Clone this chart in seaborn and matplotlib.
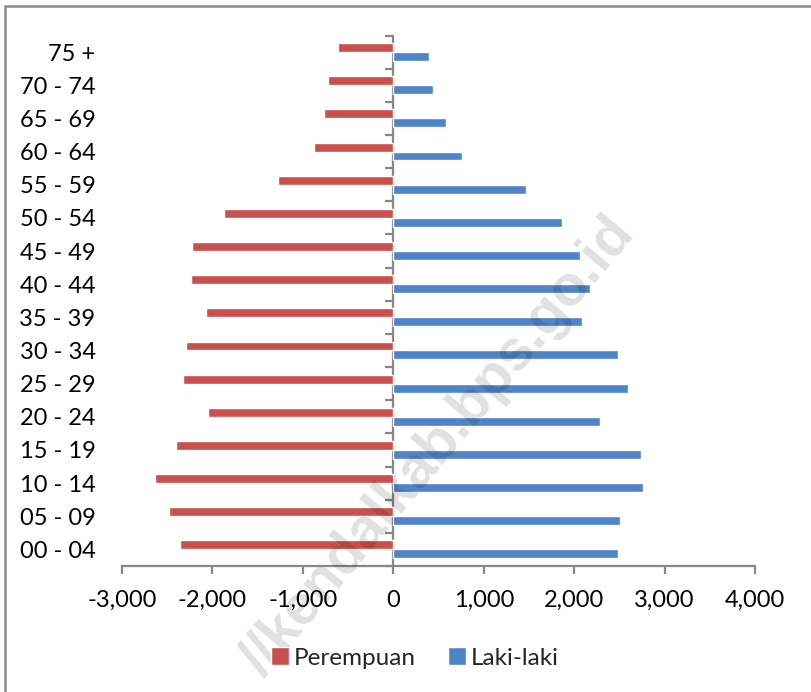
import numpy as np
import pandas as pd
import matplotlib
matplotlib.use("Agg")
import matplotlib.pyplot as plt
from matplotlib.patches import Rectangle
import seaborn as sns

# ---- data (top to bottom) ----
age_groups = ["75 +", "70 - 74", "65 - 69", "60 - 64", "55 - 59", "50 - 54",
              "45 - 49", "40 - 44", "35 - 39", "30 - 34", "25 - 29", "20 - 24",
              "15 - 19", "10 - 14", "05 - 09", "00 - 04"]
perempuan = [-608, -718, -762, -876, -1271, -1871, -2228, -2232, -2070, -2295,
             -2320, -2048, -2405, -2630, -2475, -2357]
laki_laki = [398, 440, 578, 755, 1466, 1867, 2066, 2177, 2090, 2490,
             2600, 2287, 2737, 2759, 2510, 2490]
series_names = ["Perempuan", "Laki-laki"]
x_ticks = [-3000, -2000, -1000, 0, 1000, 2000, 3000, 4000]
watermark = "//kendalkab.bps.go.id"

df = pd.DataFrame({
    "age": age_groups * 2,
    "sex": [series_names[0]] * len(age_groups) + [series_names[1]] * len(age_groups),
    "value": perempuan + laki_laki,
})

sns.set_style("white")
plt.rcParams["font.family"] = ["Lato", "DejaVu Sans"]

W, H = 811, 692
fig = plt.figure(figsize=(W / 100, H / 100), dpi=100)
ax = fig.add_axes([122 / W, (H - 566) / H, (755 - 122) / W, (566 - 35.5) / H])

red = "#C9504D"
blue = "#4F84C8"
sns.barplot(data=df, y="age", x="value", hue="sex", order=age_groups,
            hue_order=series_names, palette=[red, blue], orient="h",
            width=0.54, dodge=True, ax=ax, legend=True, saturation=1)

ax.set_xlim(-3000, 4000)
ax.set_ylim(len(age_groups) - 0.5, -0.5)
ax.set_xlabel("")
ax.set_ylabel("")

gray = "#878787"
for s in ["top", "right", "left"]:
    ax.spines[s].set_visible(False)
ax.spines["bottom"].set_color(gray)
ax.spines["bottom"].set_linewidth(1.6)

ax.set_xticks(x_ticks)
ax.set_xticklabels([f"{v:,}" for v in x_ticks])
ax.tick_params(axis="x", direction="out", length=6, width=1.6, color=gray,
               labelsize=17, pad=11, labelcolor="black")
ax.tick_params(axis="y", length=0, labelsize=17, pad=19, labelcolor="black")
ax.tick_params(axis="x", bottom=True)

# vertical category axis crossing at x = 0
sec = ax.secondary_yaxis((0 - (-3000)) / 7000)
sec.set_yticks(np.arange(-0.5, len(age_groups), 1))
sec.set_yticklabels([])
sec.tick_params(axis="y", direction="out", length=6, width=1.6, color=gray)
for s in sec.spines.values():
    s.set_color(gray)
    s.set_linewidth(1.6)

# legend
handles, labels = ax.get_legend_handles_labels()
ax.legend_.remove()
fig.legend(handles, labels, loc="center", bbox_to_anchor=(415 / W, 1 - 658 / H),
           ncol=2, frameon=False, fontsize=17.5, handlelength=0.75,
           handleheight=0.75, handletextpad=0.2, columnspacing=1.3)

# outer border
fig.add_artist(Rectangle((5 / W, -0.1), 1.2, 1 - 6 / H + 0.1, fill=False,
                         edgecolor="#8a8a8a", linewidth=1.8,
                         transform=fig.transFigure))

# watermark
fig.text(438 / W, 1 - 447 / H, watermark, rotation=50, fontsize=41,
         fontweight="bold", color="black", alpha=0.12, ha="center",
         va="center", rotation_mode="anchor",
         family=["Liberation Sans", "DejaVu Sans"])

fig.savefig("out.png", dpi=100)
